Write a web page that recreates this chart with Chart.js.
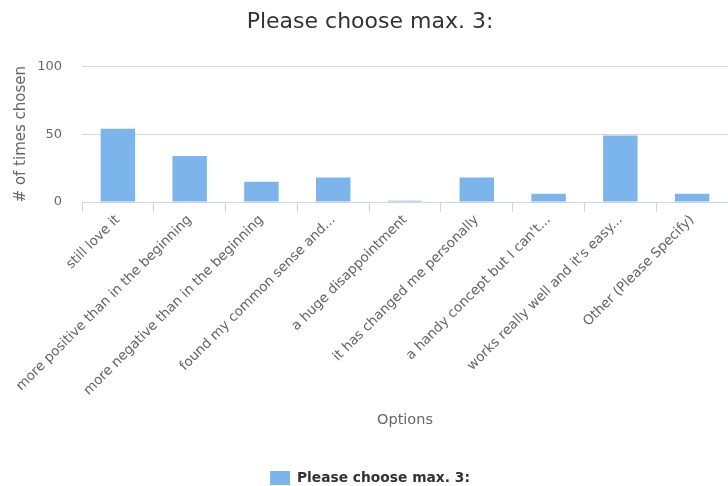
<!DOCTYPE html>
<html>
<head>
<meta charset="utf-8">
<script src="https://cdn.jsdelivr.net/npm/chart.js@4/dist/chart.umd.min.js"></script>
<style>
  html, body { margin: 0; padding: 0; background: #fff; }
  #wrap { width: 728px; height: 486px; }
</style>
</head>
<body>
<div id="wrap"><canvas id="chart"></canvas></div>
<script>
const TITLE = 'Please choose max. 3:';

const options = [
  'still love it',
  'more positive than in the beginning',
  'more negative than in the beginning',
  'found my common sense and...',
  'a huge disappointment',
  'it has changed me personally',
  "a handy concept but I can't...",
  "works really well and it's easy...",
  'Other (Please Specify)'
];
const timesChosen = [54, 34, 15, 18, 1, 18, 6, 49, 6];
const yTicks = [0, 50, 100];

const FONT = "'DejaVu Sans', sans-serif";
const barColor = '#7cb5ec';

// legend sits flush with the bottom edge
const tightLegend = {
  id: 'tightLegend',
  beforeInit(chart) {
    const fit = chart.legend.fit;
    chart.legend.fit = function () {
      fit.call(this);
      this.height = 16;
    };
  }
};

const chart = new Chart(document.getElementById('chart'), {
  type: 'bar',
  data: {
    labels: options,
    datasets: [{
      label: TITLE,
      data: timesChosen,
      backgroundColor: barColor,
      borderWidth: 0,
      categoryPercentage: 1,
      barPercentage: 0.48
    }]
  },
  options: {
    responsive: true,
    maintainAspectRatio: false,
    animation: false,
    layout: { padding: { left: 12, right: 0, top: 0, bottom: 0 } },
    plugins: {
      title: {
        display: true,
        text: TITLE,
        color: '#333333',
        font: { family: FONT, size: 22, weight: 'normal' },
        padding: { top: 9, bottom: 31 }
      },
      legend: {
        position: 'bottom',
        labels: {
          color: '#333333',
          font: { family: FONT, size: 13.8, weight: 'bold' },
          boxWidth: 20,
          boxHeight: 14,
          padding: 1
        }
      },
      tooltip: { enabled: false }
    },
    scales: {
      x: {
        // keep the rotated first label from pushing the plot to the right
        afterFit: (axis) => { axis.paddingLeft = 0; axis.height = 268; },
        grid: {
          offset: true,
          drawOnChartArea: false,
          drawTicks: true,
          tickLength: 10,
          color: '#ccd6eb'
        },
        border: { display: true, color: '#ccd6eb', width: 1 },
        ticks: {
          color: '#666666',
          font: { family: FONT, size: 13.5 },
          minRotation: 45,
          maxRotation: 45,
          autoSkip: false,
          padding: 0
        },
        title: {
          display: true,
          text: 'Options',
          color: '#666666',
          font: { family: FONT, size: 14.5 },
          padding: { top: 10, bottom: 41 }
        }
      },
      y: {
        min: 0,
        max: 100,
        afterBuildTicks: (axis) => { axis.ticks = yTicks.map(v => ({ value: v })); },
        afterFit: (axis) => { axis.width = 70; },
        grid: { color: '#d8d8d8', drawTicks: false },
        border: { display: false },
        ticks: {
          color: '#666666',
          font: { family: FONT, size: 13 },
          padding: 20
        },
        title: {
          display: true,
          text: '# of times chosen',
          color: '#666666',
          font: { family: FONT, size: 15 },
          padding: { top: 0, bottom: 6 }
        }
      }
    }
  },
  plugins: [tightLegend]
});
</script>
</body>
</html>
